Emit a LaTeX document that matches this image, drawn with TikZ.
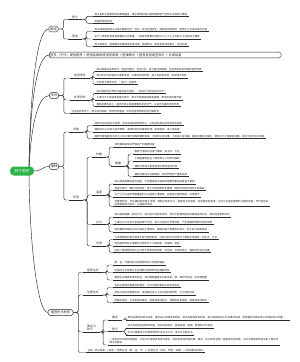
\documentclass[tikz,border=0pt]{standalone}
\usepackage{fontspec}
\setmainfont{Noto Sans CJK SC}
\XeTeXlinebreaklocale "zh"
\XeTeXlinebreakskip=0pt plus 0.5pt
\definecolor{rootgreen}{HTML}{2DB34A}
\definecolor{ln}{HTML}{2B2B2B}
\tikzset{
  conn/.style={draw=ln,line width=0.45pt,rounded corners=2pt},
  curv/.style={draw=ln,line width=0.45pt},
  ulin/.style={draw=ln,line width=0.45pt},
  leaf/.style={anchor=south west,inner xsep=1.5pt,inner ysep=0.7pt,font=\fontsize{2.5}{3.2}\selectfont,text=ln},
  lab/.style={anchor=south west,inner xsep=4pt,inner ysep=0.7pt,font=\fontsize{2.9}{3.5}\selectfont,text=ln,align=left},
  topic/.style={draw=ln,line width=0.5pt,rounded corners=1.5pt,inner xsep=1.4pt,inner ysep=1.3pt,font=\fontsize{3.2}{4}\selectfont,fill=white,text=ln},
  rootbox/.style={fill=rootgreen,rounded corners=4pt,text=white,font=\fontsize{3.6}{4.2}\selectfont,minimum width=24pt,minimum height=9pt,inner sep=0pt},
}
\newcommand\mleaf[4]{\node[leaf] (#1) at (#2,#3) {#4};\draw[ulin] (#1.south west)--(#1.south east);}
\newcommand\mleafw[5]{\node[leaf,text width=#4,align=left] (#1) at (#2,#3) {#5};\draw[ulin] (#1.south west)--(#1.south east);}
\newcommand\mlab[4]{\node[lab] (#1) at (#2,#3) {#4};\draw[ulin] (#1.south west)--(#1.south east);}
\newcommand\mcn[3]{\draw[conn] (#1) -- ++(#2,0) |- (#3.south west);}
\begin{document}
\begin{tikzpicture}[x=1pt,y=-1pt]
\fill[white] (0,0) rectangle (300,362);
\useasboundingbox (0,0) rectangle (300,362);
% root
\node[rootbox] (root) at (22,171) {种子萌发};
% level 1
\node[topic] (A) at (53.5,29) {概述};
\node[topic,anchor=west,text width=229,align=left] (B) at (49,55) {胚乳（子叶）提供营养 + 胚根突破种皮发育成根 + 胚轴伸长 + 胚芽发育成茎和叶 + 长成幼苗};
\node[topic] (C) at (54,95.5) {条件};
\node[topic] (D) at (54,166.5) {播种};
\node[topic,minimum width=25pt] (E) at (60.5,312.5) {植物生长发育};
\draw[curv] (29,167) .. controls (30,100) and (36,29) .. (A.west);
\draw[curv] (29,167) .. controls (30,110) and (36,55) .. (B.west);
\draw[curv] (29,167) .. controls (31,130) and (37,95.5) .. (C.west);
\draw[curv] (root.east) .. controls (42,171) and (42,166.5) .. (D.west);
\draw[curv] (29,175) .. controls (30,250) and (38,312.5) .. (E.west);
% A
\mlab{a1}{68}{19.5}{种子}
\mlab{a2}{68}{39}{萌发}
\mcn{A.east}{5}{a1}
\mcn{A.east}{5}{a2}
\mleaf{a11}{93}{16.3}{种子是种子植物特有的繁殖器官，裸子植物和被子植物都能够产生种子并用种子繁殖}
\mleaf{a12}{93}{23.3}{胚是新植物幼体}
\mcn{a1.south east}{4}{a11}
\mcn{a1.south east}{4}{a12}
\mleaf{a21}{93}{31.5}{种子萌发是指种子从吸水膨胀开始，经过一系列生理变化，到胚根突破种皮、胚芽出土长成幼苗的过程}
\mleaf{a22}{93}{39}{生产上常用发芽率来衡量种子的质量，一般发芽率要达到百分之九十以上的种子才适合用于播种}
\mleaf{a23}{93}{46.5}{种子萌发时，胚根最先突破种皮发育成根，胚轴伸长，胚芽发育成茎和叶，长成幼苗}
\mcn{a2.south east}{4}{a21}
\mcn{a2.south east}{4}{a22}
\mcn{a2.south east}{4}{a23}
% C
\mlab{c1}{70}{78}{自身条件}
\mlab{c2}{70}{100}{外界条件}
\mleaf{c3}{70}{113.5}{在适宜的条件下，种子吸水膨胀，呼吸作用增强，贮存的营养物质开始分解转化}
\mcn{C.east}{5}{c1}
\mcn{C.east}{5}{c2}
\mcn{C.east}{5}{c3}
\mleaf{c11}{95}{71.5}{种子萌发的自身条件：胚是完整的、有活力的，且已度过休眠期，并有供胚发育所需的营养物质}
\mleaf{c12}{95}{78}{种子贮存时应保持干燥和低温，以降低呼吸作用、减少有机物消耗，延长种子寿命}
\mleaf{c13}{95}{84.5}{不同种子寿命不同，一般为一至数年}
\mcn{c1.south east}{3}{c11}
\mcn{c1.south east}{3}{c12}
\mcn{c1.south east}{3}{c13}
\mleaf{c21}{95}{93.5}{种子萌发的外界条件是适宜的温度、一定的水分和充足的空气}
\mleaf{c22}{95}{100}{土壤过于干旱或者温度过低时，种子不能萌发或萌发缓慢，影响出苗的整齐度}
\mleaf{c23}{95}{106.5}{播种前要先松土，是因为种子萌发需要充足的空气，以进行旺盛的呼吸作用}
\mcn{c2.south east}{3}{c21}
\mcn{c2.south east}{3}{c22}
\mcn{c2.south east}{3}{c23}
% D
\mlab{d1}{69}{132}{合格}
\mlab{d2}{69}{200}{环境}
\mcn{D.east}{5}{d1}
\mcn{D.east}{5}{d2}
\mleaf{g1}{93}{125.5}{选种时应挑选粒大饱满、没有虫蛀和破损的种子，以保证较高的发芽率和出苗率}
\mleaf{g2}{93}{132}{播种前可以对种子进行晒种、浸种和药剂消毒等处理，促进萌发、减少病虫害}
\mleaf{g3}{93}{138.5}{播种时要根据种子的大小和土壤状况确定播种深度，大粒种子宜深播，小粒种子宜浅播；播种后要适当镇压，使种子与土壤紧密接触，有利于种子吸水萌发}
\mcn{d1.south east}{4}{g1}
\mcn{d1.south east}{4}{g2}
\mcn{d1.south east}{4}{g3}
\mlab{s}{92}{157}{时期}
\mlab{t}{92}{195}{温度}
\mlab{w}{92}{224.5}{水分}
\mlab{l}{92}{246}{光照}
\mcn{d2.south east}{4}{s}
\mcn{d2.south east}{4}{t}
\mcn{d2.south east}{4}{w}
\mcn{d2.south east}{4}{l}
\mleaf{s1}{113}{147}{适时播种是保证作物高产的重要前提}
\mlab{sp}{111}{166}{春播}
\mcn{s.south east}{3}{s1}
\mcn{s.south east}{3}{sp}
\mleaf{p1}{133}{154}{春季气温回升后进行播种，如玉米、大豆}
\mleaf{p2}{133}{161}{土壤温度稳定在十摄氏度以上时即可播种}
\mleaf{p3}{133}{168.5}{播种过早种子易受低温冻害而造成烂种}
\mleaf{p4}{133}{176.5}{播种过晚则生长期缩短，影响作物的产量和品质}
\mcn{sp.south east}{3}{p1}
\mcn{sp.south east}{3}{p2}
\mcn{sp.south east}{3}{p3}
\mcn{sp.south east}{3}{p4}
\mleaf{t1}{113}{184}{种子萌发需要适宜的温度，不同植物种子萌发所需要的最适温度各不相同}
\mleaf{t2}{113}{190.5}{温度过低时，酶的活性降低，种子内的物质转化缓慢，萌发时间延长甚至不能萌发}
\mleaf{t3}{113}{197}{生产上可以采用地膜覆盖的方法提高土壤温度，促进种子提早萌发、出苗整齐}
\mleafw{t4}{113}{206.5}{154pt}{早春播种时，可在播种前用温水浸种，使种子吸足水分，提高种子的温度，加快萌发的速度；也可以在温室或塑料大棚中育苗，待气温适宜后再移栽到大田中，以提高成活率}
\mcn{t.south east}{3}{t1}
\mcn{t.south east}{3}{t2}
\mcn{t.south east}{3}{t3}
\mcn{t.south east}{3}{t4}
\mleaf{w1}{113}{217}{种子萌发需要一定的水分，种子吸水后种皮变软，有利于胚根和胚芽突破种皮而长出，同时促进物质转化}
\mleaf{w2}{113}{224.5}{土壤中水分过多时会造成氧气不足，种子只能进行无氧呼吸，产生酒精而导致烂种的现象}
\mleaf{w3}{113}{232}{因此播种前要适当浇水保持土壤湿润，播种后遇大雨要及时排水，防止种子缺氧窒息}
\mcn{w.south east}{3}{w1}
\mcn{w.south east}{3}{w2}
\mcn{w.south east}{3}{w3}
\mleaf{l1}{113}{239.5}{大多数植物的种子萌发不受光照的影响，在有光和无光的条件下都能正常萌发，如玉米、大豆}
\mleaf{l2}{113}{246}{有些植物的种子需要在光照条件下才能萌发，如烟草、莴苣}
\mleaf{l3}{113}{252.5}{还有少数植物的种子在光照下萌发受到抑制，如苋菜、瓜类的种子，播种时应适当深播}
\mcn{l.south east}{3}{l1}
\mcn{l.south east}{3}{l2}
\mcn{l.south east}{3}{l3}
% E
\mlab{e1}{83}{272.5}{营养生长}
\mlab{e2}{83}{295}{生殖生长}
\mlab{e3}{83}{332}{果实与\\种子}
\mleaf{e4}{86}{352.5}{总结：种子萌发 → 幼苗 → 营养生长（根、茎、叶）→ 生殖生长（开花、传粉、受精）→ 结出果实和种子}
\mcn{E.east}{5}{e1}
\mcn{E.east}{5}{e2}
\mcn{E.east}{5}{e3}
\mcn{E.east}{5}{e4}
\mleaf{n1}{113}{265}{根、茎、叶是绿色开花植物体的三种营养器官}
\mleaf{n2}{113}{272.5}{幼根的生长依靠分生区细胞分裂和伸长区细胞伸长}
\mleaf{n3}{113}{280}{植物生长需要多种无机盐，其中需要量最多的是含氮、磷、钾的无机盐，应合理施肥}
\mcn{e1.south east}{4}{n1}
\mcn{e1.south east}{4}{n2}
\mcn{e1.south east}{4}{n3}
\mleaf{r1}{113}{287.5}{花的主要结构是雄蕊和雌蕊，它们与果实和种子的形成有关}
\mleaf{r2}{113}{295}{花粉从花药中散放出来，落到雌蕊柱头上的过程叫做传粉，分为自花传粉}
\mleaf{r3}{113}{302.5}{受精完成后，子房发育成果实，胚珠发育成种子，受精卵发育成胚，珠被发育成种皮}
\mcn{e2.south east}{4}{r1}
\mcn{e2.south east}{4}{r2}
\mcn{e2.south east}{4}{r3}
\mlab{f1}{108}{320}{果实}
\mlab{f2}{108}{331.5}{种子}
\mleafw{f3}{108}{345}{169pt}{一朵花经过传粉和受精后，只有子房继续发育成为果实，花的其他结构如花瓣、雄蕊、柱头和花柱等一般都会逐渐凋落；子房中胚珠的数目决定了果实中种子的数目}
\mcn{e3.south east}{3}{f1}
\mcn{e3.south east}{3}{f2}
\mcn{e3.south east}{3}{f3}
\mleafw{f11}{126}{320}{161pt}{果实由果皮和种子组成，果皮由子房壁发育而来，种子由胚珠发育而来。被子植物的种子外有果皮包被，能够更好地保护种子并帮助种子传播}
\mleaf{f21}{126}{328}{种子的结构包括种皮和胚，有的还有胚乳，胚由胚芽、胚轴、胚根和子叶组成}
\mleaf{f22}{126}{335}{双子叶植物种子的营养物质贮存在子叶中，单子叶在胚乳中}
\mcn{f1.south east}{3}{f11}
\mcn{f2.south east}{3}{f21}
\mcn{f2.south east}{3}{f22}
\end{tikzpicture}
\end{document}
